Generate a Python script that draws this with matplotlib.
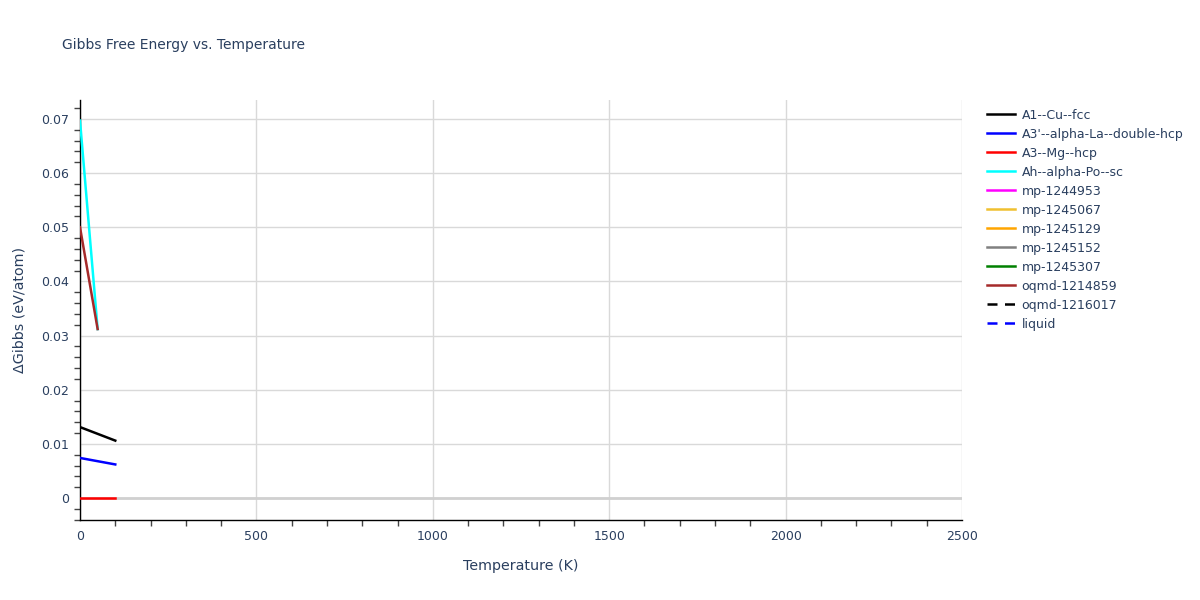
import matplotlib
matplotlib.use("Agg")
import matplotlib.pyplot as plt
from matplotlib.ticker import MultipleLocator

plt.rcParams["font.family"] = ["DejaVu Sans"]

# series (T in K, dG in eV/atom)
names = ["A1--Cu--fcc", "A3'--alpha-La--double-hcp", "A3--Mg--hcp", "Ah--alpha-Po--sc",
         "mp-1244953", "mp-1245067", "mp-1245129", "mp-1245152", "mp-1245307",
         "oqmd-1214859", "oqmd-1216017", "liquid"]
colors = ["black", "blue", "red", "cyan", "magenta", "#f0c030", "orange", "gray",
          "green", "brown", "black", "blue"]
dashed = ["oqmd-1216017", "liquid"]

temps = {
    "A1--Cu--fcc": [0, 100],
    "A3'--alpha-La--double-hcp": [0, 100],
    "A3--Mg--hcp": [0, 100],
    "Ah--alpha-Po--sc": [0, 50],
    "oqmd-1214859": [0, 50],
}
dg = {
    "A1--Cu--fcc": [0.0131, 0.0106],
    "A3'--alpha-La--double-hcp": [0.0074, 0.0062],
    "A3--Mg--hcp": [0.0, 0.0],
    "Ah--alpha-Po--sc": [0.0697, 0.0312],
    "oqmd-1214859": [0.0500, 0.0312],
}

TXT = "#2a3f5f"
fig = plt.figure(figsize=(12, 6), dpi=100)
ax = fig.add_axes([80 / 1200, 80 / 600, 882 / 1200, 420 / 600])

ax.axhline(0, color="#d0d0d0", lw=2, zorder=1)
for n, c in zip(names, colors):
    ls = (0, (4, 3)) if n in dashed else "-"
    ax.plot(temps.get(n, []), dg.get(n, []), color=c, lw=1.8, ls=ls, label=n, zorder=3)

ax.set_xlim(0, 2500)
ax.set_ylim(-0.00406, 0.0735)
ax.xaxis.set_major_locator(MultipleLocator(500))
ax.xaxis.set_minor_locator(MultipleLocator(100))
ax.yaxis.set_major_locator(MultipleLocator(0.01))
ax.yaxis.set_minor_locator(MultipleLocator(0.002))
ax.yaxis.set_major_formatter(lambda v, p: "0" if abs(v) < 1e-9 else f"{v:.2f}")
ax.grid(True, which="major", color="#d9d9d9", lw=1)
ax.set_axisbelow(True)
for s in ["top", "right"]:
    ax.spines[s].set_visible(False)
for s in ["left", "bottom"]:
    ax.spines[s].set_color("black")
    ax.spines[s].set_linewidth(1)
ax.tick_params(which="major", length=0, pad=8, labelsize=9, labelcolor=TXT)
ax.tick_params(which="minor", length=4, color="#444444", width=1)
ax.tick_params(axis="x", which="major", length=0, pad=7)

ax.set_xlabel("Temperature (K)", fontsize=10.3, color=TXT, labelpad=12)
ax.set_ylabel("ΔGibbs (eV/atom)", fontsize=10.3, color=TXT, labelpad=10)
fig.text(62 / 1200, 1 - 45 / 600, "Gibbs Free Energy vs. Temperature",
         fontsize=10, color=TXT, va="center")

leg = ax.legend(loc="upper left", bbox_to_anchor=(1.018, 1.0), frameon=False,
                fontsize=9, handlelength=2.3, handletextpad=0.5,
                labelspacing=0.48, borderaxespad=0.3)
for t in leg.get_texts():
    t.set_color(TXT)

fig.savefig("out.png", dpi=100)
